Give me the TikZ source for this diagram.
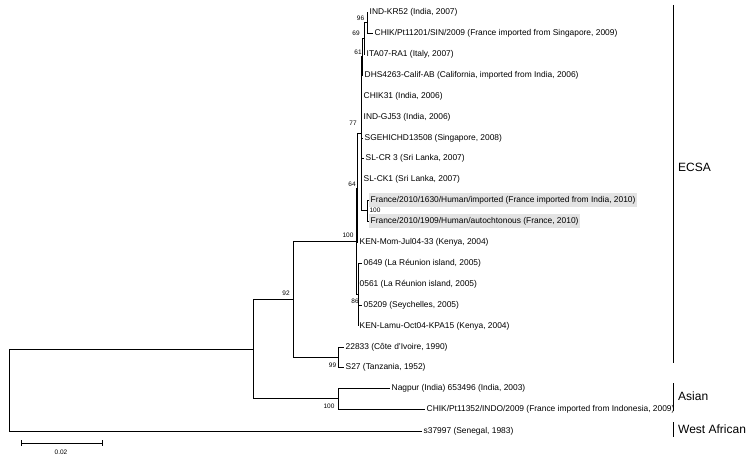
\documentclass[tikz,border=0pt]{standalone}
\usepackage{fontspec}
\setmainfont{Liberation Sans}
\begin{document}
\begin{tikzpicture}[x=1pt,y=-1pt,
  br/.style={line width=0.85pt},
  leaf/.style={anchor=west,font=\fontsize{8.4}{10}\selectfont,inner xsep=1.5pt,inner ysep=0pt,text height=6.3pt,text depth=1.8pt},
  hl/.style={leaf,fill=gray!22,inner ysep=2.5pt},
  bs/.style={font=\fontsize{6.5}{7}\selectfont,inner sep=0pt},
  clade/.style={anchor=west,font=\fontsize{12}{14}\selectfont,inner sep=0pt}]
\useasboundingbox (0,0) rectangle (750,460);
% internal nodes
\coordinate (root) at (9,390);
\coordinate (ing) at (253,349);
\coordinate (n92) at (293,299);
\coordinate (asian) at (338,398.5);
\coordinate (n99) at (338,357);
\coordinate (ecsa) at (356,241);
\coordinate (n64) at (357,188);
\coordinate (n86) at (358,294.5);
\coordinate (n77) at (361,133.5);
\coordinate (n61) at (362,56.5);
\coordinate (n69) at (364,38);
\coordinate (n96) at (367,22.5);
\coordinate (nfr) at (367,210.5);
% leaves
\node[leaf] (kr52) at (368,12) {IND-KR52 (India, 2007)};
\node[leaf] (pta) at (373,33) {CHIK/Pt11201/SIN/2009 (France imported from Singapore, 2009)};
\node[leaf] (ita) at (365,54) {ITA07-RA1 (Italy, 2007)};
\node[leaf] (dhs) at (363,75) {DHS4263-Calif-AB (California, imported from India, 2006)};
\node[leaf] (chik) at (362,96) {CHIK31 (India, 2006)};
\node[leaf] (gj) at (362,117) {IND-GJ53 (India, 2006)};
\node[leaf] (sge) at (363,138) {SGEHICHD13508 (Singapore, 2008)};
\node[leaf] (slcr) at (364,158) {SL-CR 3 (Sri Lanka, 2007)};
\node[leaf] (slck) at (362,179) {SL-CK1 (Sri Lanka, 2007)};
\node[hl] (fra) at (369,200) {France/2010/1630/Human/imported (France imported from India, 2010)};
\node[hl] (frb) at (369,221) {France/2010/1909/Human/autochtonous (France, 2010)};
\node[leaf] (kenm) at (358,242) {KEN-Mom-Jul04-33 (Kenya, 2004)};
\node[leaf] (ra) at (362,263) {0649 (La Réunion island, 2005)};
\node[leaf] (rb) at (358,284) {0561 (La Réunion island, 2005)};
\node[leaf] (sey) at (362,305) {05209 (Seychelles, 2005)};
\node[leaf] (kenl) at (358,326) {KEN-Lamu-Oct04-KPA15 (Kenya, 2004)};
\node[leaf] (civ) at (344,347) {22833 (Côte d'Ivoire, 1990)};
\node[leaf] (tz) at (344,367) {S27 (Tanzania, 1952)};
\node[leaf] (nag) at (390,388) {Nagpur (India) 653496 (India, 2003)};
\node[leaf] (ptb) at (425,409) {CHIK/Pt11352/INDO/2009 (France imported from Indonesia, 2009)};
\node[leaf] (sen) at (422,431) {s37997 (Senegal, 1983)};
% branches
\draw[br] (root) |- (ing); \draw[br] (root) |- (sen.west);
\draw[br] (ing) |- (n92); \draw[br] (ing) |- (asian);
\draw[br] (n92) |- (ecsa); \draw[br] (n92) |- (n99);
\draw[br] (ecsa) |- (n64); \draw[br] (ecsa) |- (n86);
\draw[br] (n64) |- (n77); \draw[br] (n64) |- (kenm.west);
\draw[br] (n77) |- (n61); \draw[br] (n77) |- (chik.west); \draw[br] (n77) |- (gj.west);
\draw[br] (n77) |- (sge.west); \draw[br] (n77) |- (slcr.west); \draw[br] (n77) |- (slck.west);
\draw[br] (n77) |- (nfr);
\draw[br] (n61) |- (n69); \draw[br] (n61) |- (dhs.west);
\draw[br] (n69) |- (n96); \draw[br] (n69) |- (ita.west);
\draw[br] (n96) |- (kr52.west); \draw[br] (n96) |- (pta.west);
\draw[br] (nfr) |- (fra.west); \draw[br] (nfr) |- (frb.west);
\draw[br] (n86) |- (ra.west); \draw[br] (n86) |- (rb.west);
\draw[br] (n86) |- (sey.west); \draw[br] (n86) |- (kenl.west);
\draw[br] (n99) |- (civ.west); \draw[br] (n99) |- (tz.west);
\draw[br] (asian) |- (nag.west); \draw[br] (asian) |- (ptb.west);
% bootstrap values
\node[bs] (b96) at (360.5,18) {96};
\node[bs] (b69) at (356,33) {69};
\node[bs] (b61) at (358,52) {61};
\node[bs] (b77) at (353,123) {77};
\node[bs] (b64) at (352,184) {64};
\node[bs] (bfr) at (375,210) {100};
\node[bs] (becsa) at (348,235) {100};
\node[bs] (b86) at (355,301) {86};
\node[bs] (b92) at (286,293) {92};
\node[bs] (b99) at (332.5,365) {99};
\node[bs] (bas) at (329,406) {100};
% clade bars
\coordinate (ea) at (673,5); \coordinate (eb) at (673,363);
\coordinate (aa) at (673,383); \coordinate (ab) at (673,411);
\coordinate (wa) at (673,422); \coordinate (wb) at (673,437);
\draw[br] (ea) -- (eb); \draw[br] (aa) -- (ab); \draw[br] (wa) -- (wb);
\node[clade] (lecsa) at (678,167) {ECSA};
\node[clade] (lasian) at (678,396) {Asian};
\node[clade] (lwa) at (678,429) {West African};
% scale bar
\coordinate (sa) at (21,443); \coordinate (sb) at (102,443);
\draw[br] (sa) -- (sb);
\draw[br] ([yshift=3pt]sa) -- ([yshift=-3pt]sa);
\draw[br] ([yshift=3pt]sb) -- ([yshift=-3pt]sb);
\node[bs] (sl) at (61,452) {0.02};
\end{tikzpicture}
\end{document}
